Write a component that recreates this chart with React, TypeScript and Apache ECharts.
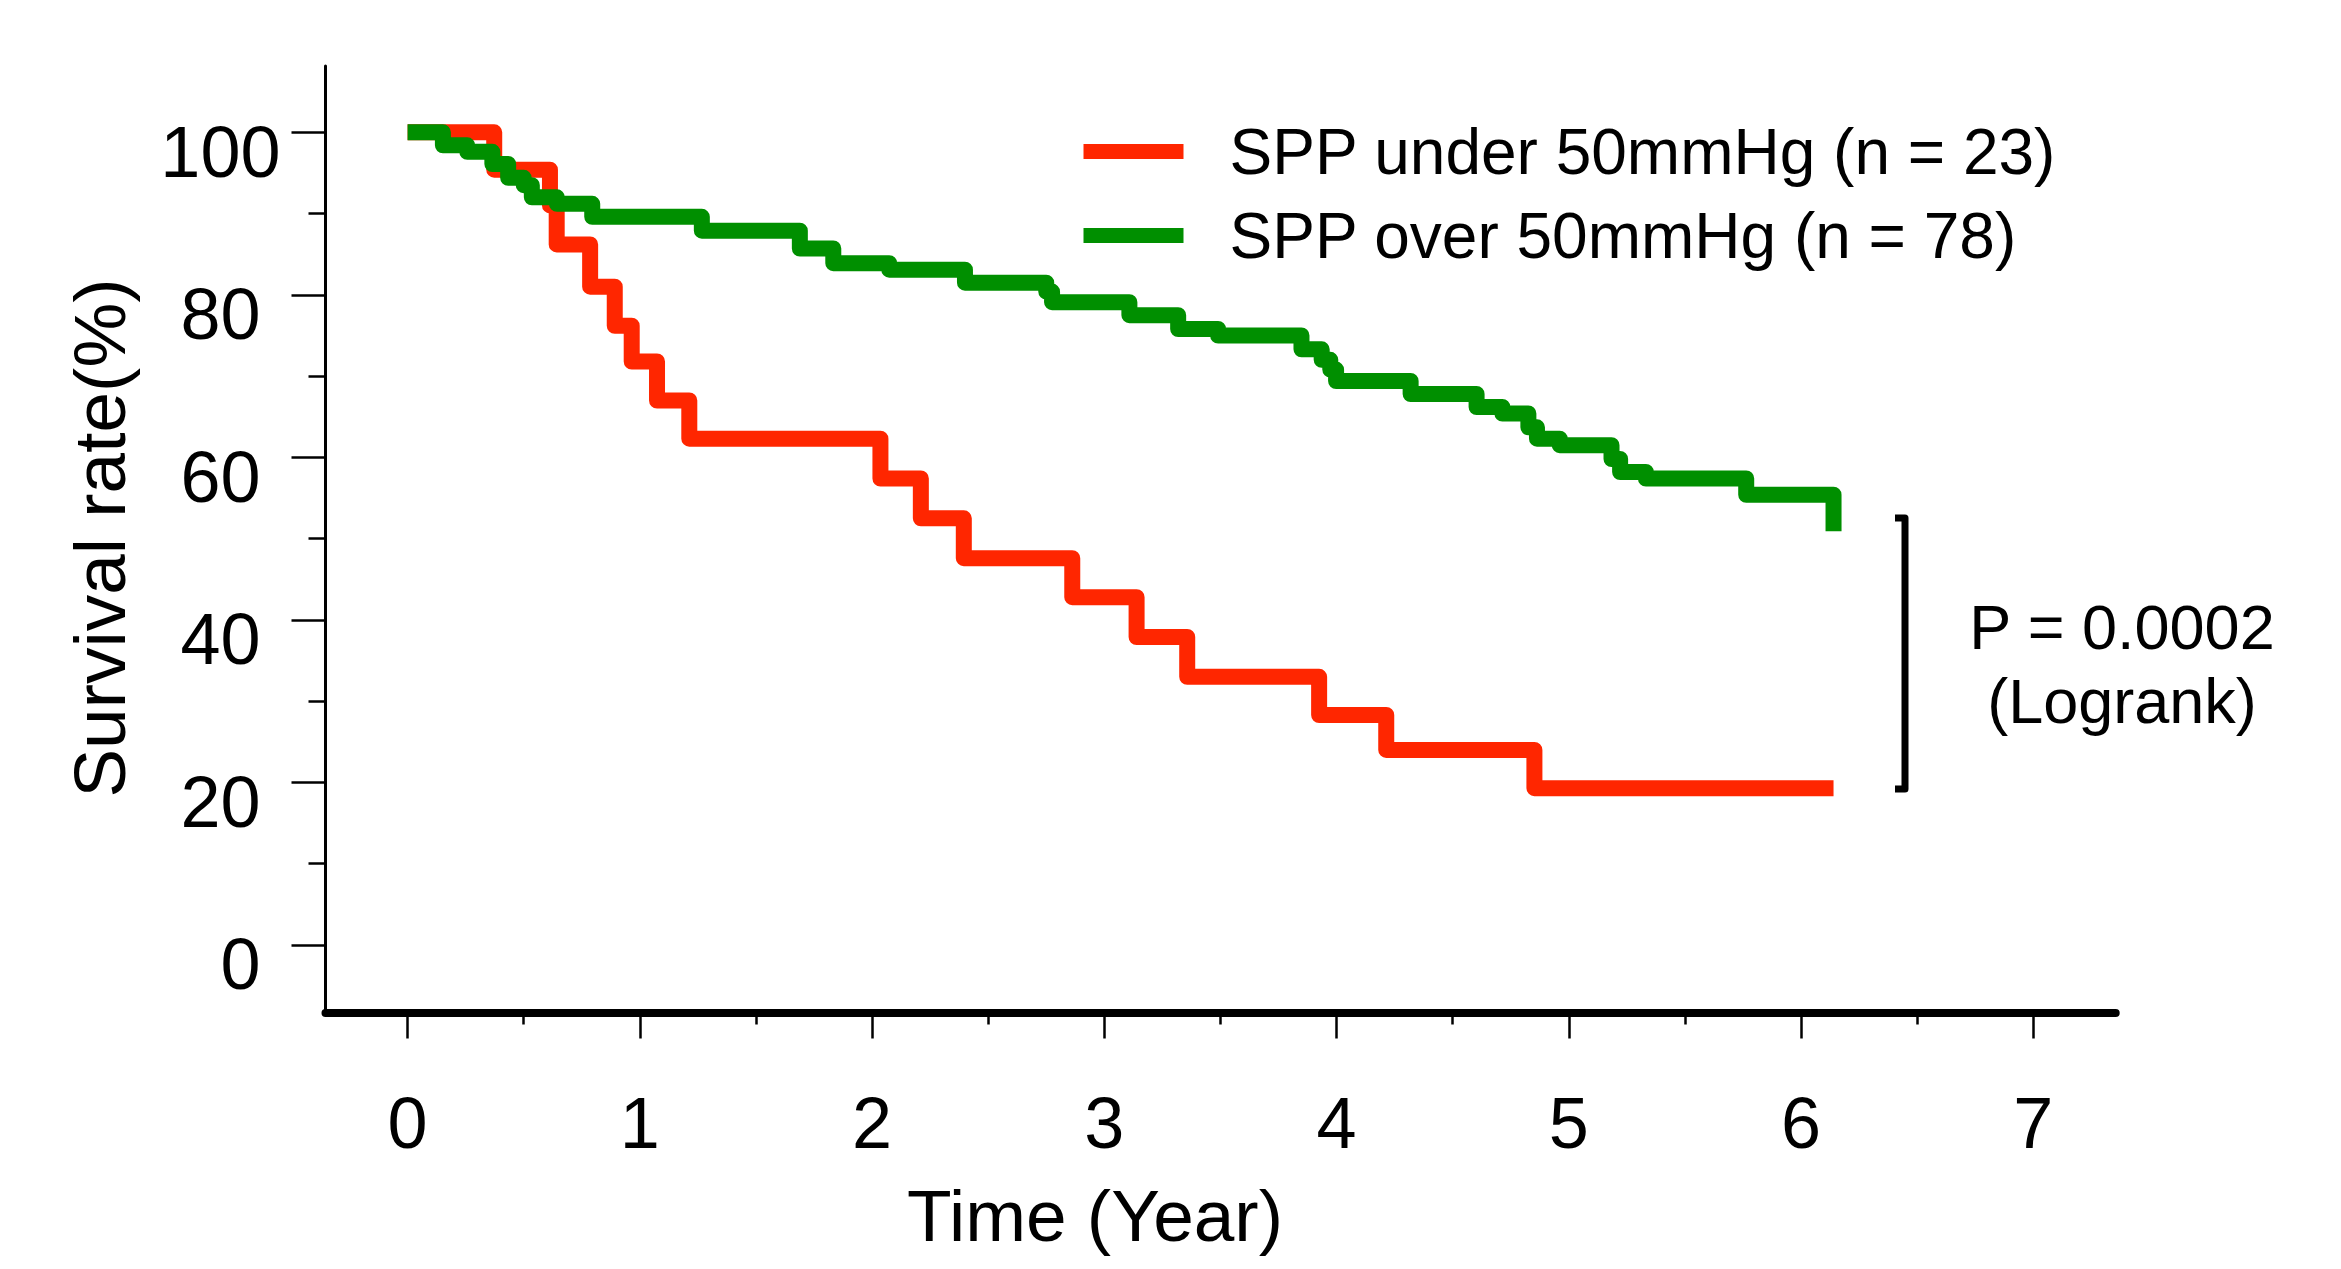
import React, { useEffect, useRef } from "react";
import * as echarts from "echarts";

// ---------- data ----------
const seriesNames = ["SPP under 50mmHg (n = 23)", "SPP over 50mmHg (n = 78)"];
const seriesColors = ["#FF2600", "#008F00"];

// Kaplan-Meier steps (time in years, survival in %)
const redTimes = [0, 0.373, 0.613, 0.642, 0.786, 0.892, 0.965, 1.074, 1.213, 2.036, 2.21, 2.395, 2.862, 3.139, 3.357, 3.925, 4.214, 4.852, 6.14];
const redSurvival = [100, 95.4, 91.0, 86.2, 81.0, 76.2, 71.8, 67.0, 62.3, 57.4, 52.5, 47.6, 42.8, 37.9, 33.0, 28.3, 24.0, 19.3, 19.3];

const greenTimes = [0, 0.152, 0.257, 0.365, 0.433, 0.5, 0.535, 0.643, 0.795, 1.267, 1.689, 1.833, 2.074, 2.4, 2.75, 2.775, 3.108, 3.318, 3.49, 3.849, 3.936, 3.973, 3.998, 4.319, 4.603, 4.714, 4.826, 4.863, 4.961, 5.184, 5.221, 5.332, 5.764, 6.14, 6.14];
const greenSurvival = [100, 98.4, 97.6, 96.1, 94.4, 93.5, 92.0, 91.2, 89.6, 87.9, 85.7, 83.9, 83.1, 81.5, 80.4, 79.1, 77.5, 75.8, 75.0, 73.3, 72.0, 70.8, 69.4, 67.8, 66.2, 65.4, 63.7, 62.3, 61.5, 59.8, 58.2, 57.4, 55.4, 55.4, 50.9];

const xTicks = [0, 1, 2, 3, 4, 5, 6, 7];
const xMinorTicks = [0.5, 1.5, 2.5, 3.5, 4.5, 5.5, 6.5];
const yTicks = [0, 20, 40, 60, 80, 100];
const yMinorTicks = [10, 30, 50, 70, 90];
const yLowLabels = [0, 20, 40, 60, 80];
const yTopLabels = [100];

const xTitle = "Time (Year)";
const yTitle = "Survival rate(%)";
const pText = "P = 0.0002\n(Logrank)";

// ---------- layout ----------
const X_MIN = -0.3535;
const X_MAX = 7.355;
const Y_MIN = -8.31;
const Y_MAX = 108.16;
const Y_LABEL_SHIFT = 2.4; // labels sit slightly below their ticks
const FONT = '"Liberation Sans", Arial, Helvetica, sans-serif';

export default function App() {
  const ref = useRef<HTMLDivElement>(null);

  useEffect(() => {
    document.body.style.margin = "0";
    const chart = echarts.init(ref.current as HTMLDivElement, null, { renderer: "svg" });

    const redData = redTimes.map((t, i) => [t, redSurvival[i]]);
    const greenData = greenTimes.map((t, i) => [t, greenSurvival[i]]);

    const black = "#000000";

    const labelAxis = (values: number[], margin: number) => ({
      type: "value",
      min: Y_MIN + Y_LABEL_SHIFT,
      max: Y_MAX + Y_LABEL_SHIFT,
      position: "left",
      axisLine: { show: false, onZero: false },
      axisTick: { show: false },
      axisLabel: { show: true, customValues: values, margin, fontSize: 72, color: black, fontFamily: FONT },
      splitLine: { show: false },
    });

    chart.setOption({
      animation: false,
      backgroundColor: "#ffffff",
      grid: { left: 325.5, top: 66, width: 1790.2, height: 946.5, containLabel: false },
      legend: {
        orient: "vertical",
        left: 1083.5,
        top: 118,
        padding: 0,
        itemWidth: 100,
        itemHeight: 15,
        itemGap: 17,
        icon: "rect",
        selectedMode: false,
        data: seriesNames,
        textStyle: {
          fontSize: 64,
          lineHeight: 64,
          color: black,
          fontFamily: FONT,
          padding: [3, 0, 0, 41],
        },
      },
      xAxis: [
        {
          type: "value",
          min: X_MIN,
          max: X_MAX,
          position: "bottom",
          axisLine: { show: true, onZero: false, lineStyle: { color: black, width: 8 } },
          axisTick: { show: true, customValues: xTicks, length: 26, lineStyle: { color: black, width: 2.5 } },
          axisLabel: { show: true, customValues: xTicks, margin: 74, fontSize: 72, color: black, fontFamily: FONT },
          splitLine: { show: false },
        },
        {
          type: "value",
          min: X_MIN,
          max: X_MAX,
          position: "bottom",
          axisLine: { show: false, onZero: false },
          axisTick: { show: true, customValues: xMinorTicks, length: 12, lineStyle: { color: black, width: 2.5 } },
          axisLabel: { show: false },
          splitLine: { show: false },
        },
      ],
      yAxis: [
        {
          type: "value",
          min: Y_MIN,
          max: Y_MAX,
          position: "left",
          axisLine: { show: true, onZero: false, lineStyle: { color: black, width: 3 } },
          axisTick: { show: true, customValues: yTicks, length: 34, lineStyle: { color: black, width: 2.5 } },
          axisLabel: { show: false },
          splitLine: { show: false },
        },
        {
          type: "value",
          min: Y_MIN,
          max: Y_MAX,
          position: "left",
          axisLine: { show: false, onZero: false },
          axisTick: { show: true, customValues: yMinorTicks, length: 17, lineStyle: { color: black, width: 2.5 } },
          axisLabel: { show: false },
          splitLine: { show: false },
        },
        labelAxis(yLowLabels, 65),
        labelAxis(yTopLabels, 45),
      ],
      series: [
        {
          name: seriesNames[0],
          type: "line",
          step: "end",
          data: redData,
          xAxisIndex: 0,
          yAxisIndex: 0,
          showSymbol: false,
          symbol: "none",
          color: seriesColors[0],
          itemStyle: { color: seriesColors[0] },
          lineStyle: { color: seriesColors[0], width: 16, cap: "butt", join: "round" },
          z: 2,
        },
        {
          name: seriesNames[1],
          type: "line",
          step: "end",
          data: greenData,
          xAxisIndex: 0,
          yAxisIndex: 0,
          showSymbol: false,
          symbol: "none",
          color: seriesColors[1],
          itemStyle: { color: seriesColors[1] },
          lineStyle: { color: seriesColors[1], width: 16, cap: "butt", join: "round" },
          z: 3,
        },
      ],
      graphic: [
        {
          type: "text",
          x: 1095,
          y: 1215,
          style: {
            text: xTitle,
            fontSize: 73,
            fontFamily: FONT,
            fill: black,
            textAlign: "center",
            textVerticalAlign: "middle",
          },
        },
        {
          type: "text",
          x: 99,
          y: 538,
          rotation: Math.PI / 2,
          style: {
            text: yTitle,
            fontSize: 73,
            fontFamily: FONT,
            fill: black,
            textAlign: "center",
            textVerticalAlign: "middle",
          },
        },
        {
          type: "text",
          x: 2122,
          y: 664,
          style: {
            text: pText,
            fontSize: 63,
            lineHeight: 74,
            fontFamily: FONT,
            fill: black,
            textAlign: "center",
            textVerticalAlign: "middle",
          },
        },
        {
          type: "polyline",
          shape: { points: [[1895, 518], [1905, 518], [1905, 789], [1895, 789]] },
          style: { stroke: black, lineWidth: 7, fill: null, lineJoin: "round" },
        },
      ],
    });

    return () => {
      chart.dispose();
    };
  }, []);

  return (
    <div
      ref={ref}
      style={{ position: "absolute", left: 0, top: 0, width: 2341, height: 1269, background: "#ffffff" }}
    />
  );
}
